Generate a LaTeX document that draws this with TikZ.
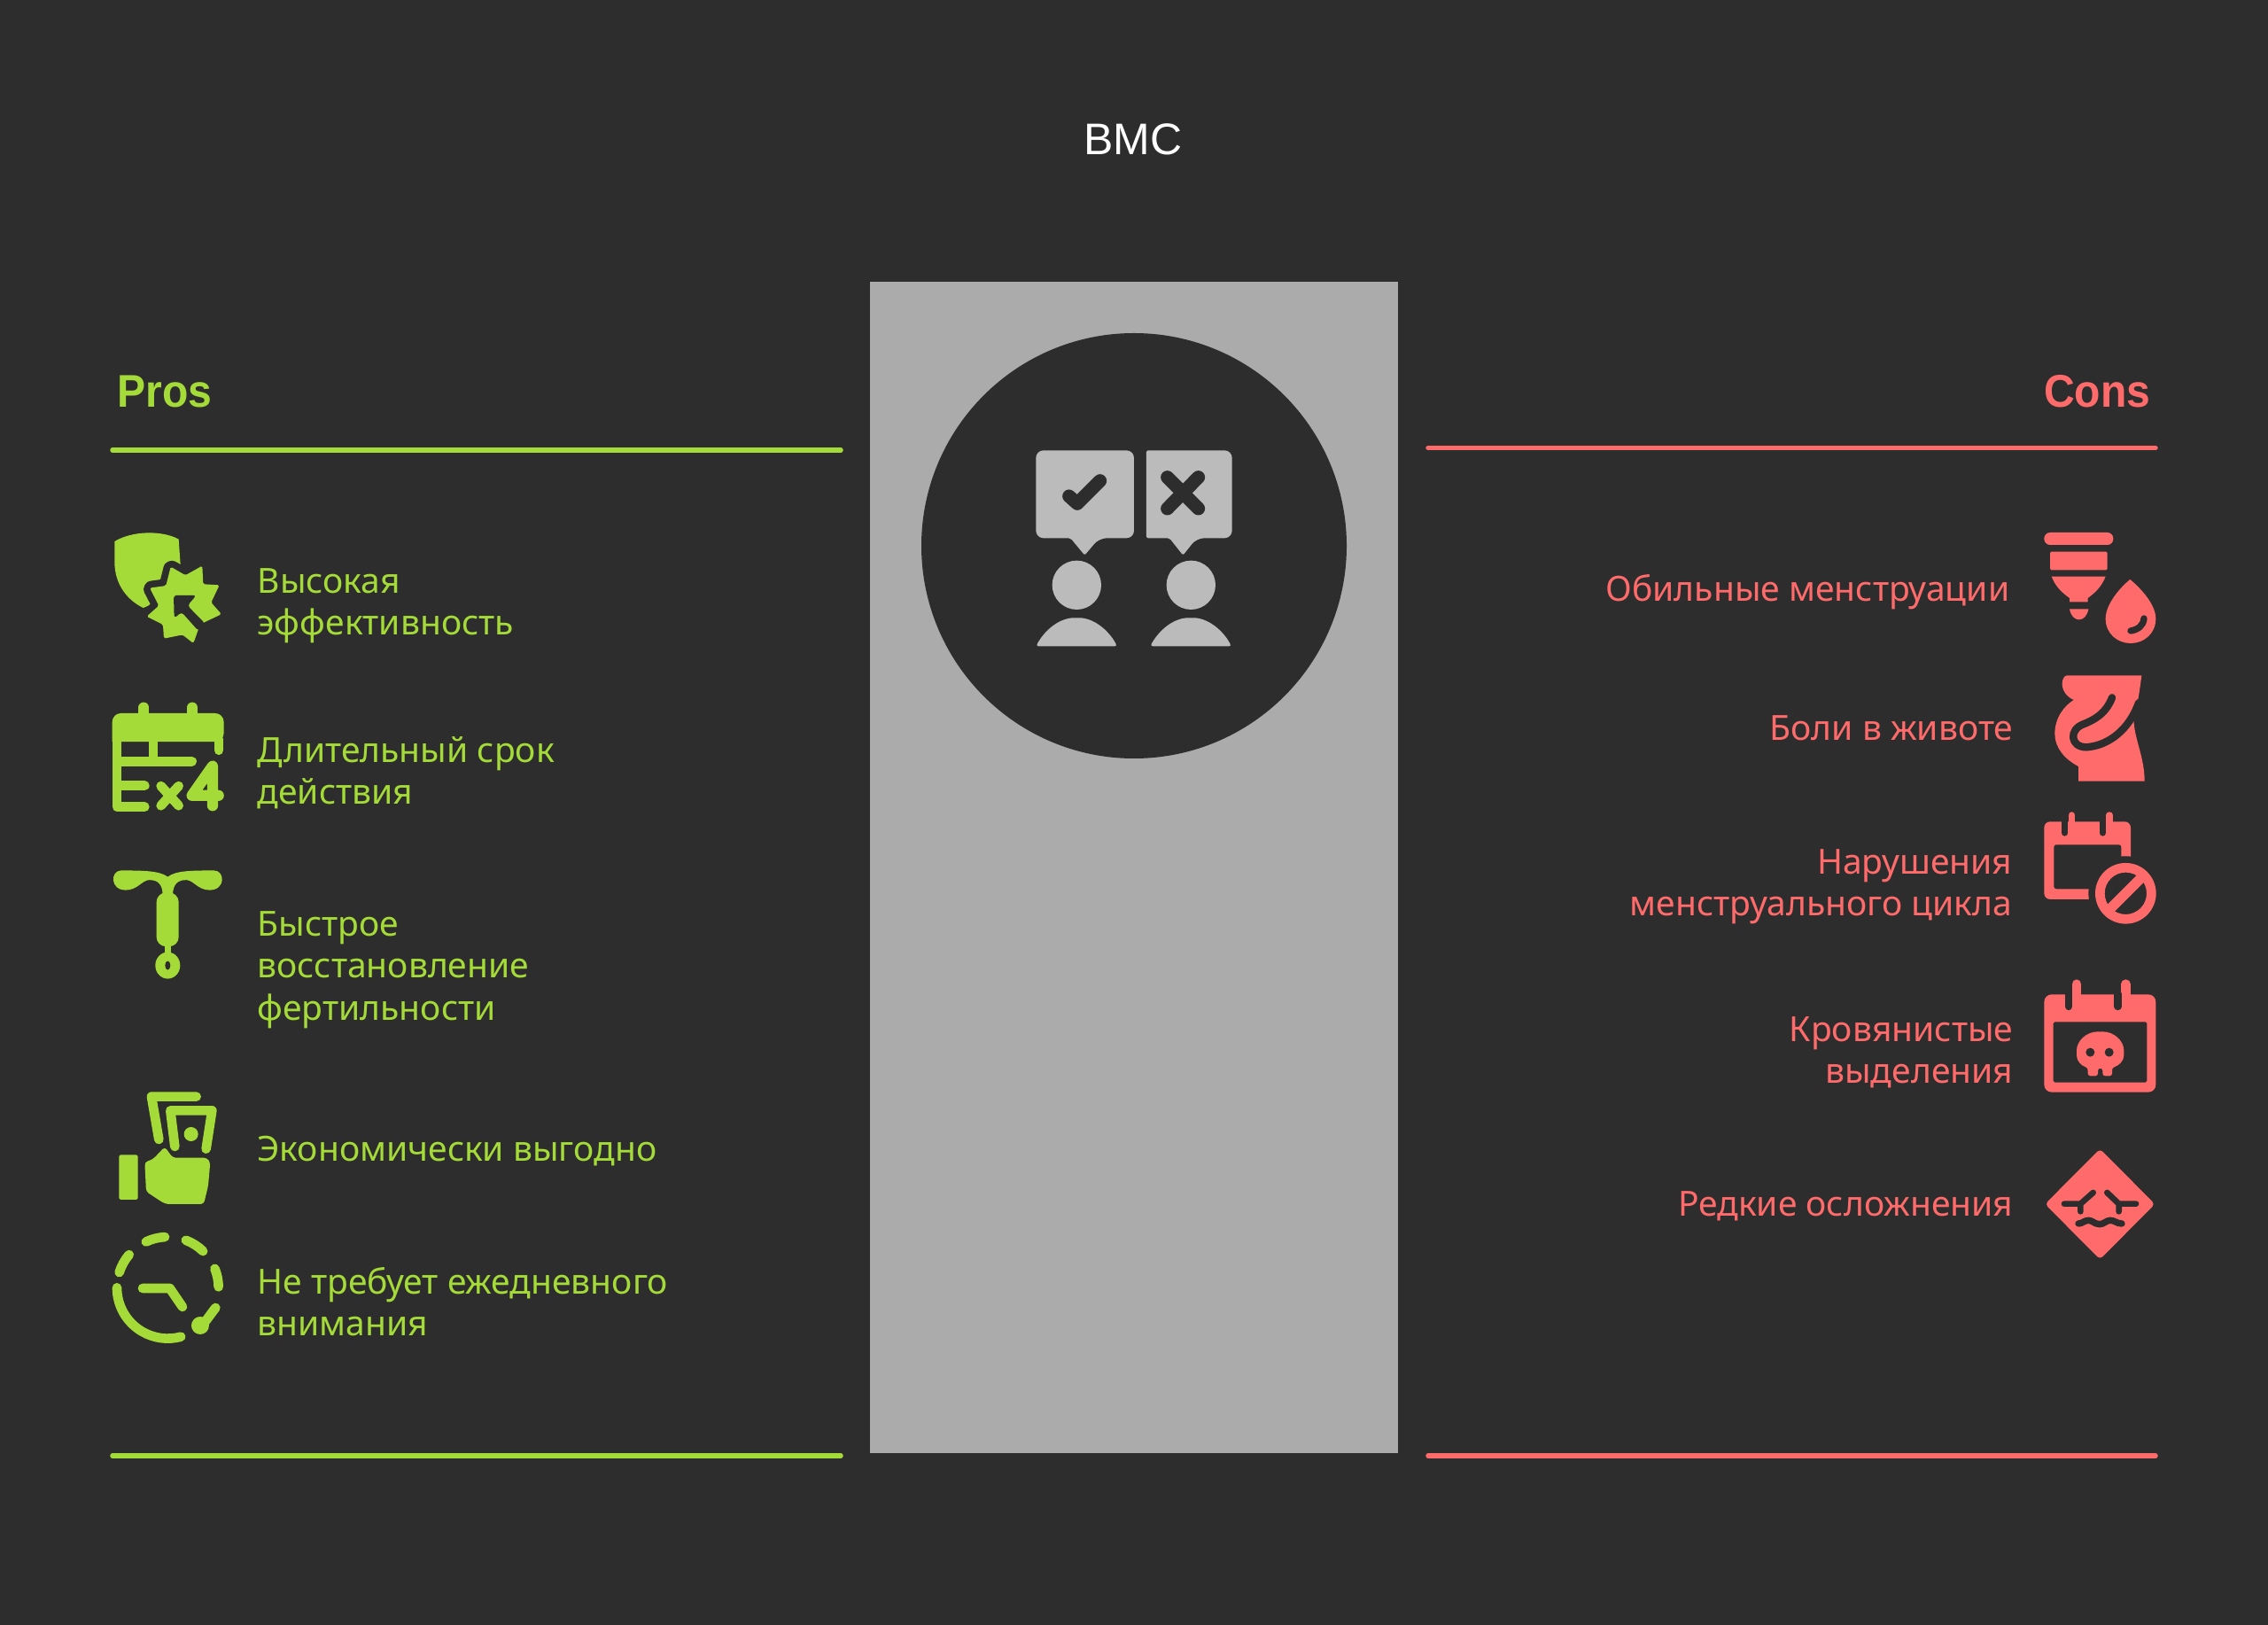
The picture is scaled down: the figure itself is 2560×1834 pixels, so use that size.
\documentclass[tikz,border=0pt]{standalone}
\usepackage{fontspec}
\setmainfont{Liberation Sans}
\newfontfamily\labelfont{Noto Sans}
\definecolor{bgdark}{HTML}{2D2D2D}
\definecolor{prosgreen}{HTML}{A5DB38}
\definecolor{consred}{HTML}{FF6B6B}
\definecolor{panelgray}{HTML}{ABABAB}
\definecolor{icongray}{HTML}{BBBBBB}
\tikzset{
    bodytext/.style={inner sep=0, font=\labelfont\fontsize{11.1}{13.46}\selectfont},
    prostext/.style={bodytext, prosgreen, align=left, anchor=north west},
    constext/.style={bodytext, consred, align=right, anchor=north east},
    headtext/.style={inner sep=0, font=\fontsize{14.7}{17}\selectfont\bfseries\addfontfeature{FakeStretch=0.93}},
    ruleline/.style={line width=1.56pt, line cap=round},
    darkline/.style={draw=bgdark, line cap=round, line join=round},
    prosline/.style={draw=prosgreen, line cap=round, line join=round},
    consline/.style={draw=consred, line cap=round, line join=round}
}
\begin{document}
\begin{tikzpicture}[x=0.01cm, y=-0.01cm]
    \useasboundingbox (0,0) rectangle (2560,1834);
    \fill[bgdark] (0,0) rectangle (2560,1834);
    \node[inner sep=0, anchor=base, white, font=\fontsize{14.2}{17}\selectfont] (title) at (1279,175) {BMC};
    \fill[panelgray] (982,318) rectangle (1578,1640);
    \fill[bgdark] (1280,616) circle (240);

    % headings and rules
    \node[headtext, anchor=base west, prosgreen] (proshead) at (132,460) {Pros};
    \node[headtext, anchor=base east, consred] (conshead) at (2428,460) {Cons};
    \draw[ruleline, prosgreen] (127,508) -- (949,508);
    \draw[ruleline, prosgreen] (127,1643) -- (949,1643);
    \draw[ruleline, consred] (1612,505.5) -- (2433,505.5);
    \draw[ruleline, consred] (1612,1643) -- (2433,1643);

    % pros text
    \node[prostext] (effect) at (290,641) {Высокая\\эффективность};
    \node[prostext] (duration) at (290,830.5) {Длительный срок\\действия};
    \node[prostext] (fertility) at (290,1028) {Быстрое\\восстановление\\фертильности};
    \node[prostext] (cost) at (290,1281) {Экономически выгодно};
    \node[prostext] (daily) at (290,1429.5) {Не требует ежедневного\\внимания};

    % cons text
    \node[constext] (bleeding) at (2269,647.5) {Обильные менструации};
    \node[constext] (pain) at (2273,807) {Боли в животе};
    \node[constext] (cycle) at (2272,957.5) {Нарушения\\менструального цикла};
    \node[constext] (spotting) at (2273,1147) {Кровянистые\\выделения};
    \node[constext] (rare) at (2273,1344) {Редкие осложнения};

    % centre icon
    \begin{scope}[shift={(1130,480)}, scale=0.3333]
        \fill[icongray, rounded corners=2.4pt] (118,85) -- (450,85) -- (450,382) -- (332,382) [rounded corners=0.6pt] -- (283,440) -- (235,382) [rounded corners=2.4pt] -- (118,382) -- cycle;
        \fill[icongray, rounded corners=2.4pt] (782,85) -- (782,382) -- (662,382) [rounded corners=0.6pt] -- (616,440) -- (570,382) -- (492,382) -- (492,85) [rounded corners=2.4pt] -- cycle;
        \draw[darkline, line width=4.27pt] (230,240) -- (258,265) -- (335,188);
        \draw[darkline, line width=4.27pt] (563,176) -- (668,282) (668,176) -- (563,282);
        \fill[icongray] (256,541) circle (83);
        \fill[icongray] (643,541) circle (83);
        \fill[icongray, rounded corners=0.8pt] (118,748) .. controls (150,690) and (200,652) .. (256,652) .. controls (310,652) and (362,690) .. (393,748) -- cycle;
        \fill[icongray, rounded corners=0.8pt] (505,748) .. controls (537,690) and (587,652) .. (643,652) .. controls (697,652) and (749,690) .. (780,748) -- cycle;
    \end{scope}

    % pros icons
    \begin{scope}[shift={(100,570)}, xscale=0.3333, yscale=0.3571]
        \fill[prosgreen] (88,115) .. controls (150,80) and (250,80) .. (305,108) -- (312,200) -- (250,300) -- (185,325) .. controls (130,300) and (88,250) .. (88,180) -- cycle;
        \fill[prosgreen, rounded corners=0.5pt, preaction={draw=bgdark, line width=4.4pt, line join=round}] (278,195) -- (328,222) -- (385,192) -- (388,250) -- (443,253) -- (415,308) -- (450,345) -- (400,367) -- (375,378) -- (372,392) -- (355,437) -- (318,410) -- (255,422) -- (252,378) -- (197,352) -- (238,318) -- (207,262) -- (262,255) -- cycle;
        \fill[bgdark, rounded corners=1pt] (288,285) -- (365,285) -- (335,318) -- (395,375) -- (372,398) -- (315,338) -- (290,358) -- cycle;

        \fill[prosgreen, rounded corners=2.8pt] (80,748) -- (80,658) -- (458,658) -- (458,748) [sharp corners] -- cycle;
        \draw[prosline, line width=3.03pt] (96,740) -- (96,954) -- (190,954);
        \draw[prosline, line width=3.03pt] (441,740) -- (441,775);
        \draw[prosline, line width=3.03pt] (112,810) -- (350,810);
        \draw[prosline, line width=3.03pt] (112,887) -- (190,887);
        \fill[prosgreen] (205,748) rectangle (235,795);
        \draw[prosline, line width=3.4pt] (187,640) -- (187,665);
        \draw[prosline, line width=3.4pt] (351,640) -- (351,665);
        \draw[prosline, line width=3.03pt] (245,888) -- (305,950) (305,888) -- (245,950);
        \draw[prosline, line width=3.5pt] (420,950) -- (420,825) -- (350,918) -- (440,918);

        \fill[prosgreen] (110,1155) .. controls (180,1155) and (240,1155) .. (268,1175) .. controls (296,1155) and (350,1155) .. (425,1155) .. controls (462,1155) and (465,1217) .. (410,1217) .. controls (370,1217) and (355,1185) .. (330,1185) .. controls (300,1185) and (285,1200) .. (285,1235) -- (251,1235) .. controls (251,1200) and (236,1185) .. (206,1185) .. controls (181,1185) and (166,1217) .. (126,1217) .. controls (71,1217) and (74,1155) .. (110,1155) -- cycle;
        \fill[prosgreen, rounded corners=3pt] (230,1225) rectangle (305,1395);
        \fill[prosgreen] (258,1390) rectangle (280,1425);
        \fill[prosgreen] (268,1455) circle (42);
        \fill[bgdark] (268,1455) ellipse (9 and 14);
    \end{scope}
    \begin{scope}[shift={(100,1200)}, scale=0.3333]
        \draw[prosline, line width=3.03pt] (238,258) -- (213,113) -- (365,113);
        \draw[prosline, line width=3.03pt] (292,282) -- (277,160) -- (418,160) -- (398,290);
        \fill[prosgreen] (347,240) circle (24);
        \fill[prosgreen, rounded corners=0.5pt] (103,310) rectangle (167,462);
        \fill[prosgreen, rounded corners=1pt] (190,335) -- (218,325) -- (258,283) -- (285,320) -- (400,320) -- (412,335) -- (405,415) -- (390,477) -- (280,477) .. controls (255,477) and (235,460) .. (195,435) -- cycle;

        \draw[prosline, line width=3.03pt] (180:172) ++(268,760) arc[start angle=180, end angle=75, radius=172];
        \draw[prosline, line width=3.03pt] (197.5:172) ++(268,760) arc[start angle=197.5, end angle=220.5, radius=172];
        \draw[prosline, line width=3.03pt] (244.7:172) ++(268,760) arc[start angle=244.7, end angle=266.7, radius=172];
        \draw[prosline, line width=3.03pt] (291:172) ++(268,760) arc[start angle=291, end angle=314, radius=172];
        \draw[prosline, line width=3.03pt] (338:172) ++(268,760) arc[start angle=338, end angle=359, radius=172];
        \draw[prosline, line width=3.03pt] (430,828) -- (395,875);
        \fill[prosgreen] (378,888) circle (30);
        \draw[prosline, line width=3.03pt] (183,762) -- (275,762) -- (318,825);
    \end{scope}

    % cons icons
    \begin{scope}[shift={(2280,580)}, scale=0.3333]
        \fill[consred, rounded corners=1.9pt] (82,63) rectangle (316,105);
        \fill[consred, rounded corners=0.4pt] (102,128) rectangle (296,190);
        \fill[consred] (107,212) -- (290,212) .. controls (275,250) and (250,270) .. (230,285) -- (230,298) -- (168,298) -- (168,285) .. controls (140,265) and (120,245) .. (107,212) -- cycle;
        \fill[consred] (168,322) -- (232,322) .. controls (228,345) and (215,358) .. (200,358) .. controls (185,358) and (172,345) .. (168,322) -- cycle;
        \fill[consred] (373,222) .. controls (350,240) and (290,300) .. (290,355) .. controls (290,405) and (330,438) .. (375,438) .. controls (420,438) and (460,405) .. (460,355) .. controls (460,300) and (395,240) .. (373,222) -- cycle;
        \draw[darkline, line width=2.1pt] (375,396) .. controls (400,392) and (418,378) .. (420,354);

        \fill[consred] (160,547) -- (412,547) .. controls (405,600) and (400,640) .. (385,690) .. controls (385,760) and (422,820) .. (422,905) -- (198,905) -- (198,855) .. controls (150,830) and (118,790) .. (118,745) .. controls (118,690) and (150,650) .. (182,630) .. controls (160,620) and (143,600) .. (143,575) .. controls (143,560) and (150,547) .. (160,547) -- cycle;
        \draw[darkline, line width=2.4pt] (312,622) .. controls (290,680) and (245,700) .. (215,712) .. controls (165,730) and (170,790) .. (225,790) .. controls (300,785) and (370,730) .. (402,640);

        \fill[consred, rounded corners=1.9pt] (82,1305) -- (82,1042) -- (375,1042) -- (375,1305) -- cycle;
        \draw[consline, line width=2.1pt] (175,1020) -- (175,1050);
        \draw[consline, line width=2.1pt] (303,1020) -- (303,1050);
        \draw[darkline, line width=2.1pt] (152,1030) -- (152,1080);
        \draw[darkline, line width=2.1pt] (280,1030) -- (280,1080);
        \fill[bgdark, rounded corners=0.8pt] (115,1120) rectangle (343,1270);
        \fill[bgdark] (358,1285) circle (126);
        \fill[consred, even odd rule] (358,1285) circle (103) (358,1285) circle (71);
        \draw[consred, line width=3.2pt] (296,1347) -- (420,1223);
    \end{scope}
    \begin{scope}[shift={(2280,1090)}, scale=0.3333]
        \fill[consred, rounded corners=2.4pt] (82,97) rectangle (460,428);
        \draw[consline, line width=3pt] (192,62) -- (192,110);
        \draw[consline, line width=3pt] (358,62) -- (358,110);
        \draw[darkline, line width=2.4pt] (165,95) -- (165,138);
        \draw[darkline, line width=2.4pt] (332,95) -- (332,138);
        \fill[bgdark, rounded corners=0.5pt] (113,190) rectangle (430,395);
        \fill[consred, rounded corners=0.8pt] (192,295) .. controls (192,255) and (225,223) .. (272,223) .. controls (319,223) and (352,255) .. (352,295) .. controls (352,322) and (335,338) .. (312,345) -- (312,373) -- (280,373) -- (280,347) -- (264,347) -- (264,373) -- (230,373) -- (230,345) .. controls (207,338) and (192,322) .. (192,295) -- cycle;
        \fill[bgdark] (238,293) circle (15);
        \fill[bgdark] (302,293) circle (15);

        \fill[consred, rounded corners=1.2pt] (271,620) -- (457,807) -- (271,994) -- (85,807) -- cycle;
        \draw[darkline, line width=1.9pt] (150,806) -- (205,806) -- (248,768) (205,806) -- (205,832);
        \draw[darkline, line width=1.9pt] (393,806) -- (335,806) -- (295,768) (335,806) -- (335,832);
        \draw[darkline, line width=2.1pt] (198,873) .. controls (212,873) and (218,862) .. (232,862) .. controls (246,862) and (252,875) .. (270,875) .. controls (285,875) and (292,862) .. (306,862) .. controls (320,862) and (328,873) .. (345,873);
    \end{scope}
\end{tikzpicture}
\end{document}
